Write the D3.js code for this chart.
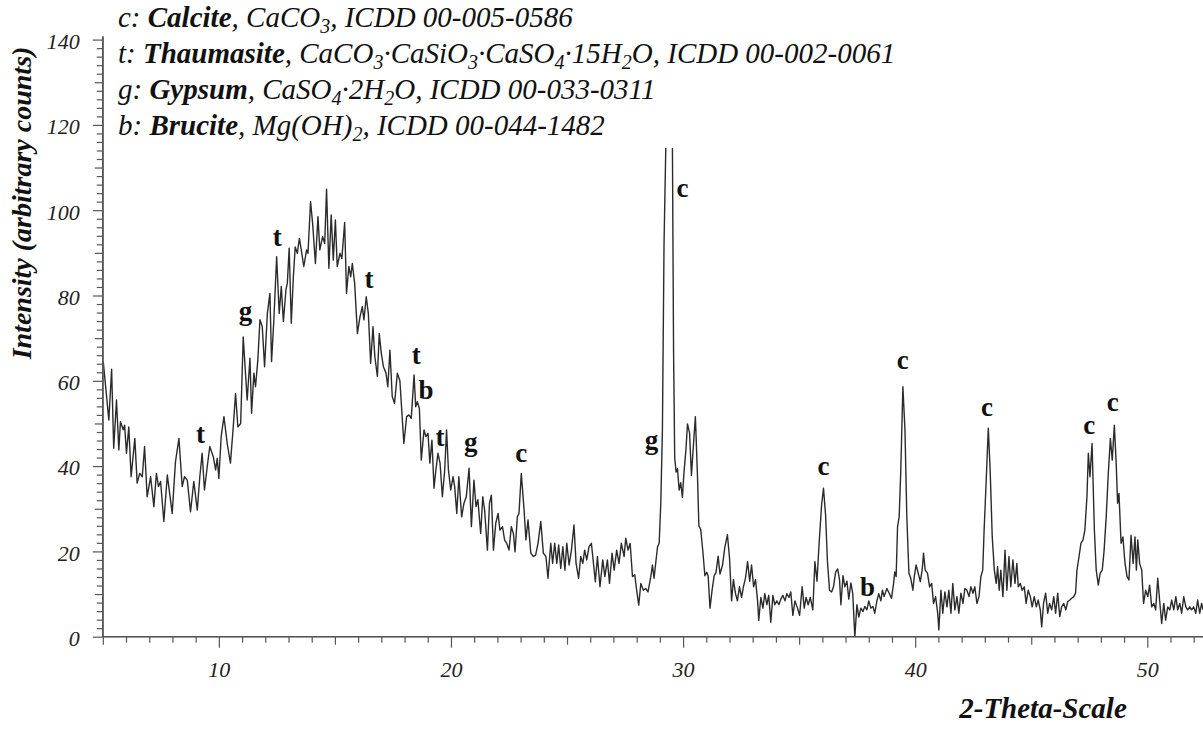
<!DOCTYPE html>
<html><head><meta charset="utf-8">
<script src="https://cdn.jsdelivr.net/npm/d3@7"></script>
<style>
body{margin:0;background:#fff} svg{display:block}
svg text{white-space:pre;font-family:"Liberation Serif","Times New Roman",Times,serif;}
</style>
</head><body><svg id="chart" width="1203" height="735"></svg>
<script>
// XRD scan: [2-theta, intensity]
const scan = [
[5.02,64.5],[5.26,50.8],[5.38,62.7],[5.47,44.2],[5.59,55.5],[5.69,43.8],[5.76,50.4],[5.88,48.5],[5.94,49.6],[6.02,43],[6.12,49.2],[6.22,37.5],[6.38,46.5],[6.48,36],[6.59,38.3],[6.70,37.5],[6.80,44.6],[6.91,32.8],[7.06,37.5],[7.20,30.5],[7.31,38.3],[7.40,35.2],[7.49,36.4],[7.63,27],[7.78,37.9],[7.99,28.9],[8.13,41],[8.28,46.5],[8.42,35.2],[8.52,37.5],[8.64,36.7],[8.78,29.3],[8.92,36.4],[9.07,29.7],[9.18,37.5],[9.28,43],[9.38,34.4],[9.50,39.9],[9.61,44.6],[9.76,42.2],[9.86,39.1],[9.93,41.8],[10.00,37.1],[10.10,46.9],[10.22,51.6],[10.36,45.3],[10.50,40.7],[10.62,49.2],[10.72,57],[10.82,49.2],[10.94,50],[11.05,70.3],
[11.22,55.5],[11.34,65.3],[11.41,52.4],[11.51,61.8],[11.58,58.6],[11.68,64.9],[11.77,74.3],[11.87,72.7],[11.97,63.3],[12.09,75.8],[12.20,80.5],[12.27,64.5],[12.37,74.3],[12.49,89.1],[12.60,75.8],[12.69,82.1],[12.78,73.9],[12.89,81.3],[12.95,82.9],[13.03,91.1],[13.12,73.5],[13.21,84.4],[13.29,91.4],[13.38,89.9],[13.47,93.4],[13.55,90.7],[13.66,86.8],[13.78,90.7],[13.84,89.9],[13.95,102],[14.04,96.9],[14.16,87.5],[14.27,98.5],[14.35,90.7],[14.47,93.8],[14.56,92.2],[14.64,104.9],[14.74,86.4],[14.84,98.9],[14.93,88.3],[15.02,97.7],[15.10,86.8],[15.22,89.9],[15.30,88.7],[15.42,97.1],[15.50,80.5],[15.60,86.8],[15.68,84.4],[15.75,87.5],[15.85,82.9],[15.97,71.1],[16.08,75],[16.18,77.4],[16.25,74.3],[16.35,79.7],[16.44,75.8],[16.54,64.1],[16.64,72.7],[16.72,65.7],[16.83,61],[16.91,71.1],[17.00,66.4],[17.09,63.3],[17.20,61.8],[17.28,58.6],[17.37,67.2],[17.47,56.3],[17.57,54.7],[17.69,61.8],[17.80,60],
[17.97,45.3],[18.09,51.6],[18.19,52],[18.29,51.2],[18.41,61.4],[18.48,53.9],[18.55,55.1],[18.64,53.5],[18.72,41.4],[18.84,48.5],[18.92,46.9],[19.01,47.7],[19.09,40.7],[19.18,46.1],[19.27,34.8],[19.35,39.1],[19.44,43],[19.53,40.7],[19.63,32.8],[19.73,39.1],[19.81,48.5],[19.89,39.1],[19.99,34.4],[20.09,37.5],[20.16,35.2],[20.25,28.9],[20.34,37.5],[20.46,28.1],[20.56,31.3],[20.66,32.8],[20.78,39.5],[20.88,25.8],[20.99,36.7],[21.08,30.5],[21.16,32.1],[21.28,24.2],[21.37,32.8],[21.45,29.7],[21.57,20.3],[21.66,31.3],[21.74,33.2],[21.83,20.3],[21.93,26.6],[22.03,28.9],[22.11,25],[22.22,25.8],[22.31,22.7],[22.40,21.9],[22.50,20.3],[22.60,25.8],[22.69,24.2],[22.76,19.9],[22.86,28.1],[22.93,28.9],[23.03,38.3],[23.15,29.7],[23.23,22.7],[23.32,27.4],[23.44,19.6],[23.55,18.8],[23.65,19.2],[23.75,21.9],[23.87,27],[23.98,19.6],[24.09,18.8],[24.18,13.7],[24.30,21.9],[24.38,17.2],[24.47,21.9],[24.56,17.2],[24.64,21.5],[24.73,16],[24.82,21.1],[24.91,15.6],[24.99,21.9],[25.09,16.8],[25.19,20.3],[25.30,26.2],[25.39,17.2],[25.50,13.7],[25.59,18.8],[25.68,17.2],[25.76,20.3],[25.85,18],[25.95,21.1],[26.05,21.9],[26.14,17.2],[26.22,12.9],[26.31,18.8],[26.42,11.7],[26.54,18],[26.63,14.1],[26.74,18],[26.83,12.5],[26.94,19.6],[27.03,15.6],[27.14,20.3],[27.24,17.2],[27.34,21.9],[27.46,18.8],[27.53,23.1],[27.63,20.3],[27.72,21.9],[27.82,14.1],[27.92,14.5],[28.00,10.9],[28.09,7.4],[28.18,12.5],[28.29,10.9],[28.39,11.3],[28.49,10.5],[28.61,14.1],[28.68,16.8],[28.75,13.7],[28.82,17.2],[28.90,21.1],[28.97,21.9],[29.04,31.3],[29.11,48.5],
[29.18,92.3],[29.26,116],[29.41,300],[29.54,116],[29.59,67.1],[29.64,41.9],[29.70,38.6],[29.76,39.4],[29.83,34.4],[29.90,36.1],[29.97,32.7],[30.04,38.6],[30.12,43.6],[30.19,49.9],[30.28,47.8],[30.36,37.8],[30.45,45.3],[30.53,51.6],[30.62,37.8],[30.68,26],[30.76,25.2],[30.85,20.1],[30.94,14.3],[31.02,15.1],[31.08,14.3],[31.16,6.7],[31.25,10.9],[31.34,14.3],[31.42,15.1],[31.51,18.9],[31.59,14.7],[31.70,16.8],[31.80,21],[31.91,23.9],[32.00,18.5],[32.09,8.4],[32.17,13.4],[32.26,10.1],[32.34,8.4],[32.43,11.7],[32.52,9.2],[32.60,11.7],[32.69,13.8],[32.78,17.6],[32.87,13],[32.95,16.8],[33.04,11.7],[33.12,13.4],[33.21,8.4],[33.26,3.8],[33.35,9.2],[33.44,6.7],[33.52,10.1],[33.61,7.5],[33.69,9.7],[33.78,3.4],[33.87,9.7],[33.95,7.5],[34.04,8.4],[34.13,7.5],[34.21,8.8],[34.30,9.7],[34.39,8.4],[34.47,10.1],[34.56,9.2],[34.64,10.5],[34.73,5],[34.82,8.4],[34.93,6.7],[35.02,5],[35.13,11.7],[35.22,6.7],[35.30,9.2],[35.39,7.5],[35.48,9.2],[35.59,6.3],[35.68,17.6],[35.77,13],[35.86,21.8],[35.97,31],[36.05,34.8],[36.14,28.5],[36.22,17.6],[36.31,10.9],[36.40,10.5],[36.48,11.7],[36.57,15.1],[36.66,15.9],[36.74,13.4],[36.80,7.5],[36.89,14.3],[36.97,11.7],[37.06,13],[37.14,8.8],[37.23,12.6],[37.31,10.1],[37.40,0],[37.49,7.5],[37.57,4.6],[37.66,6.7],[37.75,5.9],[37.83,7.1],[37.92,6.3],[38.00,8.4],[38.09,6.7],[38.18,7.1],[38.26,5.5],[38.35,8.4],[38.43,10.1],[38.52,8.4],
[38.59,10.9],[38.66,9.4],[38.78,11.3],[38.88,10.2],[38.98,9],[39.07,12.5],[39.12,15.2],[39.18,14.1],[39.24,25.8],[39.31,28.1],[39.38,39.1],[39.47,58.6],[39.56,48.5],[39.64,28.1],[39.73,14.9],[39.81,13.7],[39.90,10.9],[39.96,14.1],[40.04,16.8],[40.13,14.9],[40.22,12.9],[40.30,15.6],[40.36,19.6],[40.43,15.6],[40.53,14.9],[40.62,11.7],[40.71,12.5],[40.79,7.8],[40.88,9.4],[40.97,5.5],[41.02,1.6],[41.11,10.9],[41.19,5.5],[41.28,10.5],[41.37,7],[41.45,10.9],[41.54,5.5],[41.62,12.5],[41.71,6.3],[41.80,9.4],[41.88,5.5],[41.97,10.2],[42.06,7.8],[42.14,11.3],[42.23,10.9],[42.32,9.4],[42.40,11.7],[42.49,10.2],[42.57,11.7],[42.66,7.8],[42.75,9.4],[42.83,14.1],[42.91,15.6],[42.97,25],[43.06,36.7],[43.15,48.9],[43.23,39.1],[43.32,23.4],[43.41,15.6],[43.49,12.5],[43.55,16.4],[43.62,10.9],[43.69,15.6],[43.78,9.4],[43.87,20.3],[43.95,10.9],[44.04,18.8],[44.12,11.7],[44.21,18],[44.30,12.5],[44.38,17.2],[44.44,11.7],[44.53,12.5],[44.61,10.9],[44.70,11.7],[44.78,7.8],[44.87,10.9],[44.96,9.4],[45.04,7],[45.13,9.4],[45.22,7],[45.30,8.6],[45.39,6.3],[45.45,2.3],[45.53,7.8],[45.62,10.2],[45.71,5.5],[45.79,7.8],[45.88,6.3],[45.97,9.4],[46.05,5.5],[46.14,10.2],[46.23,4.7],[46.31,7],[46.40,7.8],[46.49,6.3],[46.57,8.2],[46.66,8.6],[46.74,9],[46.83,9.4],[46.91,10.2],[46.97,15.6],[47.06,18.8],[47.14,21.9],[47.23,22.7],[47.31,25],[47.40,32.8],[47.46,43],[47.53,37.5],[47.62,45.3],[47.72,25],[47.80,15.6],[47.89,12.1],[47.97,14.9],[48.06,15.6],[48.14,20.3],[48.23,28.1],[48.32,38.3],[48.41,46.5],[48.49,41.4],[48.58,49.6],[48.66,40.7],[48.72,31.3],[48.78,33.6],[48.87,21.9],[48.95,23.4],[49.04,17.2],[49.13,14.1],[49.21,13.3],[49.30,23.8],[49.39,17.2],[49.47,23.4],[49.53,15.6],[49.59,22.7],[49.67,17.2],[49.76,15.6],[49.84,7.8],[49.93,10.9],[50.02,9.4],[50.10,12.1],[50.19,7],[50.28,7.8],[50.36,6.3],[50.45,13.7],[50.53,8.6],[50.62,3.1],[50.71,7.8],[50.79,3.9],[50.88,7],[50.97,6.3],[51.05,8.6],[51.14,6.3],[51.23,9.4],[51.31,6.3],[51.40,7.8],[51.48,5.5],[51.57,9.4],[51.66,7],[51.74,6.3],[51.83,7],[51.91,6.3],[52.00,7],[52.09,5.5],[52.17,8.6],[52.26,5.5],[52.34,7.8],[52.40,6.3]
];

const peakLetters = ["t","g","t","t","t","b","t","g","c","g","c","c","b","c","c","c","c"];
const peakTheta   = [9.21,11.15,12.52,16.47,18.50,18.93,19.53,20.85,23.03,28.64,29.97,36.05,37.95,39.46,43.09,47.50,48.51];
const peakCounts  = [45.4,74.3,91.5,81.8,63.9,55.7,44.8,43.5,41.0,44.0,103.0,38.0,9.6,62.7,51.7,47.5,52.9];

const xTickValues = [10,20,30,40,50];
const yTickValues = [0,20,40,60,80,100,120,140];

const legendKeys     = ["c","t","g","b"];
const legendNames    = ["Calcite","Thaumasite","Gypsum","Brucite"];
const legendFormulas = ["CaCO_3","CaCO_3·CaSiO_3·CaSO_4·15H_2O","CaSO_4·2H_2O","Mg(OH)_2"];
const legendCodes    = ["ICDD 00-005-0586","ICDD 00-002-0061","ICDD 00-033-0311","ICDD 00-044-1482"];

const xTitle = "2-Theta-Scale";
const yTitle = "Intensity (arbitrary counts)";

const svg = d3.select("#chart");
const pL = 102.8, pR = 1203, pB = 636.7, pT = 39.6;
const x = d3.scaleLinear().domain([5, 52.4]).range([pL, pR]);
const y = d3.scaleLinear().domain([0, 140]).range([pB, pT]);
const axisColor = "#555";

svg.append("defs").append("clipPath").attr("id","plotclip")
  .append("rect").attr("x",pL).attr("y",0).attr("width",pR-pL).attr("height",pB);

// data line
svg.append("path").datum(scan)
  .attr("clip-path","url(#plotclip)")
  .attr("fill","none").attr("stroke","#2b2b2b").attr("stroke-width",1.4)
  .attr("stroke-linejoin","round")
  .attr("d", d3.line().x(d=>x(d[0])).y(d=>y(d[1])));

// legend (white box hides the top of the main peak)
const legend = svg.append("g");
legend.append("rect").attr("x",108).attr("y",0).attr("width",805).attr("height",148).attr("fill","#fff");
legendKeys.forEach((k,i)=>{
  const t = legend.append("text").attr("x",118).attr("y",27+36*i)
    .style("font-style","italic").style("font-size","29px").attr("fill","#111");
  t.append("tspan").text(k+": ");
  t.append("tspan").style("font-weight","bold").text(legendNames[i]);
  t.append("tspan").text(", ");
  let shift = 0;
  legendFormulas[i].split(/_(\d)/).forEach((p,j)=>{
    if (j%2===1) { t.append("tspan").style("font-size","20px").attr("dy",6).text(p); shift = 6; }
    else if (p) { t.append("tspan").attr("dy",-shift).text(p); shift = 0; }
  });
  t.append("tspan").attr("dy",-shift).text(", "+legendCodes[i]);
});

// peak annotations
svg.append("g").selectAll("text").data(peakLetters).join("text")
  .attr("x",(d,i)=>x(peakTheta[i])).attr("y",(d,i)=>y(peakCounts[i]))
  .attr("text-anchor","middle").style("font-weight","bold")
  .style("font-size","27px").attr("fill","#111").text(d=>d);

// x axis
const gx = svg.append("g").attr("transform",`translate(0,${pB})`);
gx.append("g").call(d3.axisBottom(x).tickValues(d3.range(6,53,1).filter(v=>v%5!==0)).tickSize(6).tickFormat(""));
gx.append("g").call(d3.axisBottom(x).tickValues([5,15,25,35,45]).tickSize(8).tickFormat(""));
gx.append("g").call(d3.axisBottom(x).tickValues(xTickValues).tickSize(11).tickSizeOuter(0).tickPadding(14).tickFormat(d3.format("d")));
gx.selectAll("g").attr("font-family",null);
gx.selectAll("path.domain").attr("stroke",axisColor).attr("stroke-width",1.3).attr("d",`M${pL},0H${pR}`);
gx.selectAll(".tick line").attr("stroke",axisColor).attr("stroke-width",1.2);
gx.selectAll(".tick text").style("font-style","italic").style("font-size","22px").attr("fill","#222");

// y axis
const gy = svg.append("g").attr("transform",`translate(${pL},0)`);
gy.append("g").call(d3.axisLeft(y).tickValues(d3.range(0,141,2).filter(v=>v%10!==0)).tickSize(6).tickFormat(""));
gy.append("g").call(d3.axisLeft(y).tickValues([10,30,50,70,90,110,130]).tickSize(8).tickFormat(""));
gy.append("g").call(d3.axisLeft(y).tickValues(yTickValues).tickSize(10).tickSizeOuter(0).tickPadding(13).tickFormat(d3.format("d")));
gy.selectAll("g").attr("font-family",null);
gy.selectAll("path.domain").attr("stroke",axisColor).attr("stroke-width",1.3).attr("d",`M0,${pB}V${pT-3}`);
gy.selectAll(".tick line").attr("stroke",axisColor).attr("stroke-width",1.2);
gy.selectAll(".tick text").style("font-style","italic").style("font-size","22px").attr("fill","#222").attr("dy","0.4em");

// titles
svg.append("text").attr("x",1043).attr("y",718).attr("text-anchor","middle")
  .style("font-style","italic").style("font-weight","bold").style("font-size","29px").attr("fill","#111").text(xTitle);
svg.append("text").attr("transform","translate(31,203) rotate(-90)").attr("text-anchor","middle")
  .style("font-style","italic").style("font-weight","bold").style("font-size","28px").attr("fill","#111").text(yTitle);
</script></body></html>
